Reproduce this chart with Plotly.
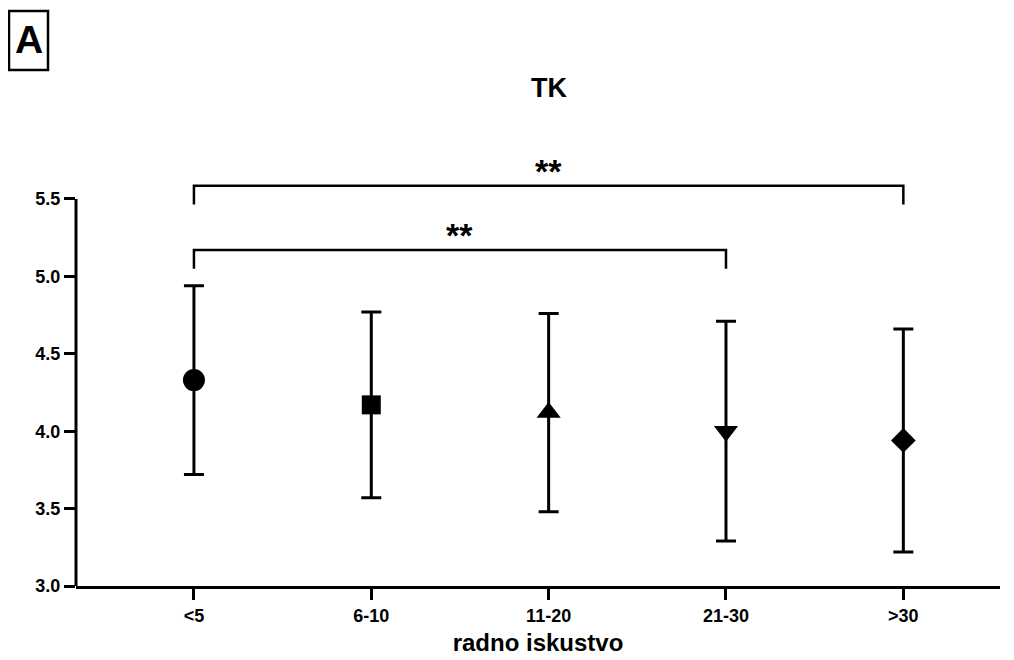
import plotly.graph_objects as go

categories = ["<5", "6-10", "11-20", "21-30", ">30"]
means = [4.33, 4.17, 4.12, 4.00, 3.94]
sds = [0.61, 0.60, 0.64, 0.71, 0.72]
symbols = ["circle", "square", "triangle-up", "triangle-down", "diamond"]
sizes = [22, 19, 21, 21, 19]
yticks = [3.0, 3.5, 4.0, 4.5, 5.0, 5.5]
ytick_labels = ["3.0", "3.5", "4.0", "4.5", "5.0", "5.5"]

# significance brackets
bracket_from = [0, 0]
bracket_to = [3, 4]
bracket_y = [5.17, 5.585]
bracket_drop = [0.12, 0.12]
bracket_label = ["**", "**"]

FONT = "Liberation Sans, Arial, sans-serif"

# page offset (body margin) and plot-area geometry in screen pixels
OFF = 8
W, H = 1014, 660
PL, PR, PB, PT = 76, 1000, 586, 168
YMIN, YMAX = 3.0, 5.7


def xp(X):
    return (X - PL) / (PR - PL)


def yp(Y):
    return (PB - Y) / (PB - PT)


fig = go.Figure()

for i, c in enumerate(categories):
    fig.add_trace(go.Scatter(
        x=[i], y=[means[i]],
        mode="markers",
        marker=dict(symbol=symbols[i], size=sizes[i], color="black",
                    line=dict(width=0)),
        error_y=dict(type="data", array=[sds[i]], arrayminus=[sds[i]],
                     color="black", thickness=3, width=10),
        showlegend=False, hoverinfo="skip"))

for a, b, yv, d, lab in zip(bracket_from, bracket_to, bracket_y, bracket_drop, bracket_label):
    fig.add_trace(go.Scatter(
        x=[a, a, b, b], y=[yv - d, yv, yv, yv - d],
        mode="lines", line=dict(color="black", width=2.5),
        showlegend=False, hoverinfo="skip", cliponaxis=False))
    fig.add_annotation(x=(a + b) / 2, y=yv, yref="y", xref="x",
                       text="<b>" + lab + "</b>", showarrow=False,
                       yanchor="middle", yshift=15,
                       font=dict(family=FONT, size=34, color="black"))

# y axis line only up to 5.5
fig.add_shape(type="line", xref="paper", yref="y", x0=0, x1=0,
              y0=3.0, y1=5.5, line=dict(color="black", width=3))

fig.update_layout(
    width=W, height=H,
    margin=dict(l=PL - OFF, r=W - (PR - OFF), t=PT - OFF, b=H - (PB - OFF)),
    paper_bgcolor="white", plot_bgcolor="white",
    font=dict(family=FONT, color="black"),
    xaxis=dict(
        tickmode="array", tickvals=list(range(len(categories))),
        ticktext=["<b>" + c + "</b>" for c in categories],
        range=[-0.665, 4.545], showline=True, linecolor="black", linewidth=3,
        ticks="outside", ticklen=11, tickwidth=3, tickcolor="black",
        showgrid=False, zeroline=False,
        tickfont=dict(family=FONT, size=18, color="black"),
        title=dict(text="<b>radno iskustvo</b>", standoff=10,
                   font=dict(family=FONT, size=24, color="black")),
    ),
    yaxis=dict(
        range=[YMIN, YMAX], tickmode="array", tickvals=yticks,
        ticktext=["<b>" + t + "</b>" for t in ytick_labels],
        showline=False, ticks="outside", ticklen=11, tickwidth=3,
        tickcolor="black", showgrid=False, zeroline=False,
        tickfont=dict(family=FONT, size=18, color="black"),
    ),
)

# title
fig.add_annotation(x=xp(549), y=yp(88), xref="paper", yref="paper",
                   text="<b>TK</b>", showarrow=False, yanchor="middle",
                   font=dict(family=FONT, size=27, color="black"))
# panel label box
fig.add_shape(type="rect", xref="paper", yref="paper",
              x0=xp(9), x1=xp(48), y0=yp(11), y1=yp(70),
              line=dict(color="black", width=2.5), fillcolor="rgba(0,0,0,0)")
fig.add_annotation(x=xp(29), y=yp(40), xref="paper", yref="paper",
                   text="<b>A</b>", showarrow=False,
                   yanchor="middle", xanchor="center",
                   font=dict(family=FONT, size=39, color="black"))

fig.write_html("out.html")
